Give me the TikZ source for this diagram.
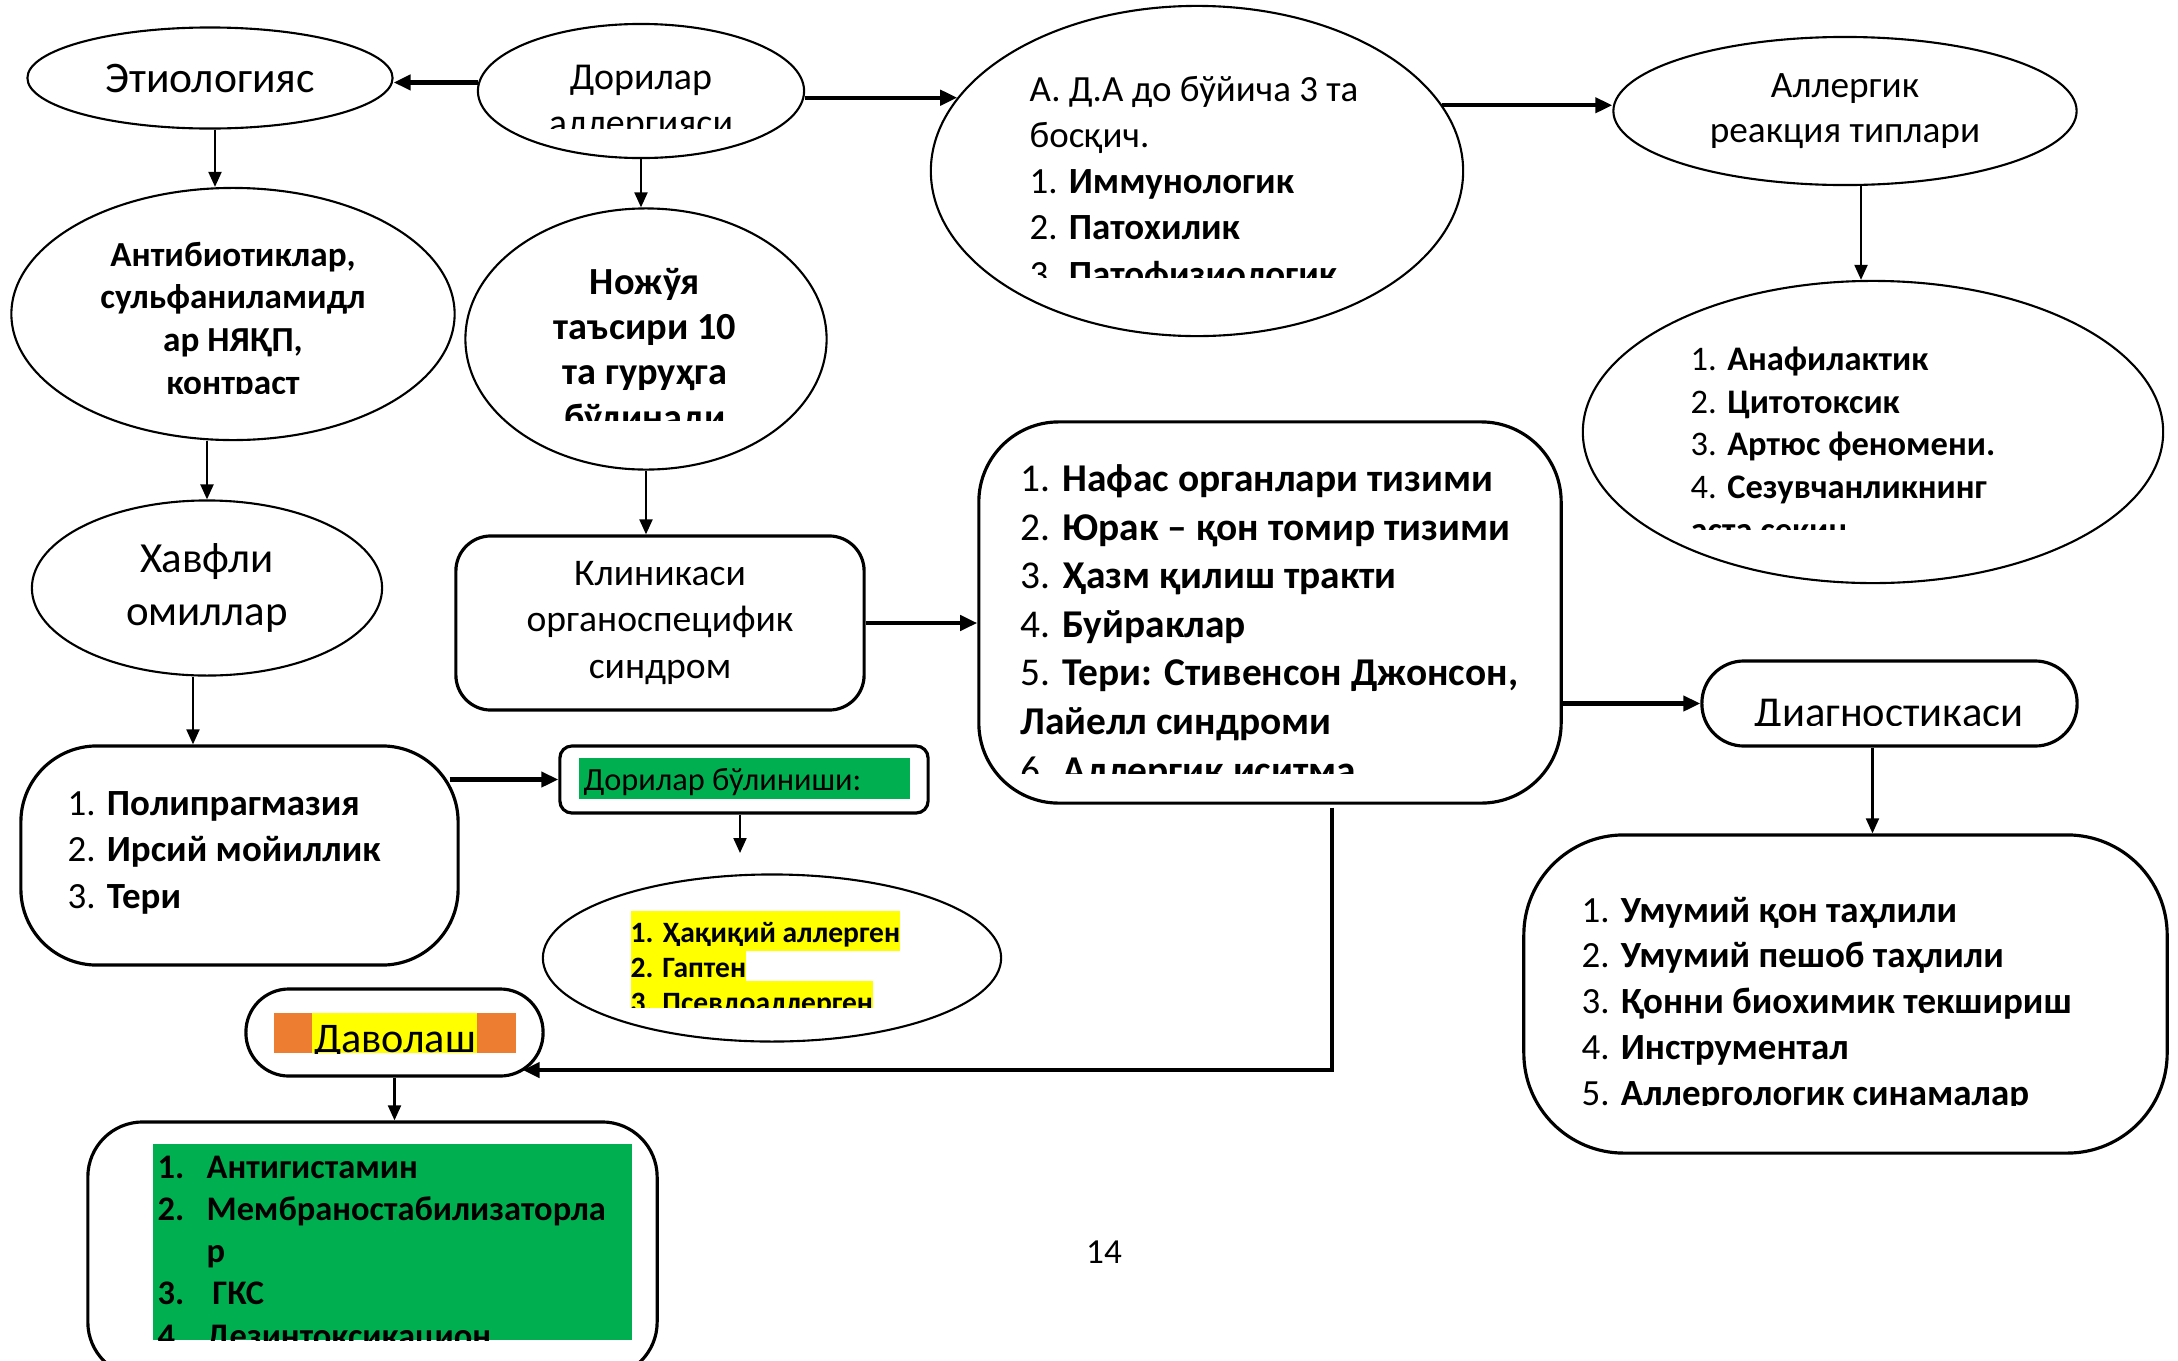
\documentclass[tikz,border=0pt]{standalone}
\usepackage{fontspec}
\setmainfont{Carlito}
\usetikzlibrary{shapes.geometric,arrows.meta}

\definecolor{wgreen}{HTML}{00B050}
\definecolor{worange}{HTML}{ED7D31}
\definecolor{wyellow}{HTML}{FFFF00}

\newcommand{\setfs}[2]{\fontsize{#1}{#2}\selectfont}

\tikzset{
  ell/.style={ellipse, draw, line width=0.6pt, inner sep=0pt},
  rbox/.style={rectangle, draw, line width=0.9pt, inner sep=0pt},
  arr/.style={-{Triangle[length=0.15cm,width=0.13cm]}, line width=0.6pt},
  tarr/.style={-{Triangle[length=0.17cm,width=0.15cm]}, line width=1.2pt},
  ctxt/.style={inner sep=0pt, align=center, anchor=base},
  ltxt/.style={inner sep=0pt, align=left, anchor=base west},
  hl/.style={inner sep=0pt, anchor=base west, fill=wyellow, text height=0.31cm, text depth=0.09cm},
}

\begin{document}
\begin{tikzpicture}[x=0.01cm, y=-0.01cm]
\useasboundingbox (0,0) rectangle (2178,1360);

% ellipses
\node[ell, minimum width=3.65cm, minimum height=1.01cm, font=\setfs{12.4}{14}] (etio) at (210,78) {Этиологияс};
\node[ell, minimum width=3.26cm, minimum height=1.34cm] (dori) at (641,91) {};
\node[ell, minimum width=5.32cm, minimum height=3.30cm] (ada) at (1197,171) {};
\node[ell, minimum width=4.63cm, minimum height=1.48cm, align=center, font=\setfs{10.6}{12.8}] (allr) at (1845,111) {Аллергик\\реакция типлари};
\node[ell, minimum width=4.43cm, minimum height=2.52cm] (anti) at (233,314) {};
\node[ell, minimum width=3.61cm, minimum height=2.61cm] (noj) at (646,339) {};
\node[ell, minimum width=5.80cm, minimum height=3.02cm] (anaph) at (1873,432) {};
\node[ell, minimum width=3.50cm, minimum height=1.75cm, align=center, font=\setfs{12.2}{15.1}] (xavf) at (207,588) {Хавфли\\омиллар};
\node[ell, minimum width=4.58cm, minimum height=1.67cm] (hak) at (772,958) {};

% rounded boxes
\node[rbox, rounded corners=0.35cm, minimum width=4.08cm, minimum height=1.74cm, align=center, font=\setfs{10.7}{13.1}] (klin) at (660,623) {Клиникаси\\органоспецифик\\синдром};
\node[rbox, rounded corners=0.8cm, minimum width=5.82cm, minimum height=3.81cm] (nafas) at (1270,612.5) {};
\node[rbox, rounded corners=0.42cm, minimum width=3.75cm, minimum height=0.85cm] (diag) at (1889.5,703.5) {};
\node[rbox, rounded corners=0.76cm, minimum width=4.37cm, minimum height=2.19cm] (polip) at (239.5,855.5) {};
\node[rbox, rounded corners=0.12cm, minimum width=3.68cm, minimum height=0.67cm] (dbul) at (744,779.5) {};
\node[rbox, rounded corners=0.43cm, minimum width=2.97cm, minimum height=0.87cm] (dav) at (394.5,1032.5) {};
\node[rbox, rounded corners=1.0cm, minimum width=6.43cm, minimum height=3.18cm] (dlist) at (1845.5,994) {};
\node[rbox, rounded corners=0.55cm, minimum width=5.69cm, minimum height=2.55cm] (treat) at (372.5,1249.5) {};

% fills
\node[fill=wgreen, inner sep=0pt, minimum width=3.31cm, minimum height=0.41cm] (dbulg) at (744.5,778.5) {};
\node[fill=worange, inner sep=0pt, minimum width=2.42cm, minimum height=0.40cm] (davo) at (395,1033) {};
\node[fill=wyellow, inner sep=0pt, minimum width=1.65cm, minimum height=0.40cm] (davy) at (394.5,1033) {};
\node[fill=wgreen, inner sep=0pt, minimum width=4.79cm, minimum height=1.96cm] (treatg) at (392.5,1242) {};

% texts (last line on the given baseline)
\begin{scope}
\clip (480,30) rectangle (800,128);
\node[ctxt, font=\setfs{10.8}{12.8}] (dorit) at (641,135) {Дорилар\\аллергияси};
\end{scope}
\begin{scope}
\clip (950,20) rectangle (1450,277);
\node[ltxt, font=\setfs{10.5}{13.1}] (adat) at (1029,286) {А. Д.А до бўйича 3 та\\босқич.\\1. \textbf{Иммунологик}\\2. \textbf{Патохилик}\\3. \textbf{Патофизиологик}};
\end{scope}
\begin{scope}
\clip (40,200) rectangle (430,393);
\node[ctxt, font=\bfseries\setfs{10}{12.1}] (antit) at (233,394) {Антибиотиклар,\\сульфаниламидл\\ар НЯҚП,\\контраст};
\end{scope}
\begin{scope}
\clip (480,220) rectangle (810,420);
\node[ctxt, font=\bfseries\setfs{10.9}{12.8}] (nojt) at (645,430) {Ножўя\\таъсири 10\\та гуруҳга\\бўлинади};
\end{scope}
\begin{scope}
\clip (1620,300) rectangle (2140,529);
\node[ltxt, font=\setfs{9.8}{12.1}] (anapht) at (1690,541) {1. \textbf{Анафилактик}\\2. \textbf{Цитотоксик}\\3. \textbf{Артюс феномени.}\\4. \textbf{Сезувчанликнинг}\\\textbf{аста секин}};
\end{scope}
\begin{scope}
\clip (990,440) rectangle (1550,773);
\node[ltxt, font=\setfs{11.2}{13.8}] (nafast) at (1020,783) {1. \textbf{Нафас органлари тизими}\\2. \textbf{Юрак – қон томир тизими}\\3. \textbf{Ҳазм қилиш тракти}\\4. \textbf{Буйраклар}\\5. \textbf{Тери: Стивенсон Джонсон,}\\\textbf{Лайелл синдроми}\\6. \textbf{Аллергик иситма}};
\end{scope}
\begin{scope}
\clip (1720,665) rectangle (2060,725);
\node[ctxt, font=\setfs{12.1}{14}] (diagt) at (1889,726) {Диагностикаси};
\end{scope}
\node[ltxt, font=\setfs{10.5}{13.1}] (polipt) at (67,908) {1. \textbf{Полипрагмазия}\\2. \textbf{Ирсий мойиллик}\\3. \textbf{Тери}};
\node[inner sep=0pt, anchor=base west, font=\setfs{9.2}{11}] (dbult) at (583,790) {Дорилар бўлиниши:};
\begin{scope}
\clip (600,890) rectangle (960,1007);
\node[hl, font=\bfseries\setfs{8.4}{10}] (hak1) at (630,942) {1. Ҳақиқий аллерген};
\node[hl, font=\bfseries\setfs{8.4}{10}] (hak2) at (630,977) {2. Гаптен};
\node[hl, font=\bfseries\setfs{8.4}{10}] (hak3) at (630,1012) {3. Псевдоаллерген};
\end{scope}
\begin{scope}
\clip (280,1000) rectangle (510,1053);
\node[inner sep=0pt, anchor=base, font=\setfs{12}{14}] (davt) at (395,1052) {Даволаш};
\end{scope}
\begin{scope}
\clip (153,1144) rectangle (632,1340);
\node[ltxt, font=\bfseries\setfs{9.8}{12}] (treatt) at (157,1347) {\makebox[0.49cm][l]{1.}Антигистамин\\\makebox[0.49cm][l]{2.}Мембраностабилизаторла\\\makebox[0.49cm][l]{}р\\\makebox[0.49cm][l]{3.}\,ГКС\\\makebox[0.49cm][l]{4.}Дезинтоксикацион};
\end{scope}
\begin{scope}
\clip (1550,860) rectangle (2150,1105);
\node[ltxt, font=\setfs{10.5}{13}] (dlistt) at (1581,1105) {1. \textbf{Умумий қон таҳлили}\\2. \textbf{Умумий пешоб таҳлили}\\3. \textbf{Қонни биохимик текшириш}\\4. \textbf{Инструментал}\\5. \textbf{Аллергологик синамалар}};
\end{scope}
\node[inner sep=0pt, anchor=base, font=\setfs{10}{12}] (page) at (1104,1263) {14};

% connectors
\draw[tarr] (dori.177) -- (dori.177 -| etio.east);
\draw[tarr] (ada.163 -| dori.east) -- (ada.163);
\draw[tarr] (ada.15) -- (ada.15 -| allr.west);
\draw[arr] ([xshift=0.05cm]etio.south) -- ([xshift=0.05cm]etio.south |- anti.north);
\draw[arr] (dori.south) -- (dori.south |- noj.north);
\draw[arr] ([xshift=0.16cm]allr.south) -- ([xshift=0.16cm]allr.south |- anaph.north);
\draw[arr] (xavf.north |- anti.south) -- (xavf.north);
\draw[arr] (noj.south) -- (noj.south |- klin.north);
\draw[tarr] (klin.east) -- (klin.east -| nafas.west);
\draw[arr] ([xshift=-0.14cm]xavf.south) -- ([xshift=-0.14cm]xavf.south |- polip.north);
\draw[tarr] ([xshift=-0.1cm]dbul.west -| polip.east) -- (dbul.west);
\coordinate (hakin) at (740,853);
\draw[arr] (dbul.south -| hakin) -- (hakin);
\draw[tarr] (nafas.east |- diag.west) -- (diag.west);
\draw[arr] ([xshift=-0.17cm]diag.south) -- ([xshift=-0.17cm]diag.south |- dlist.north);
\draw[tarr] ([xshift=0.62cm,yshift=-0.03cm]nafas.south) |- ([xshift=-0.22cm,yshift=-0.375cm]dav.east);
\draw[arr] (dav.south) -- (dav.south |- treat.north);
\end{tikzpicture}
\end{document}
